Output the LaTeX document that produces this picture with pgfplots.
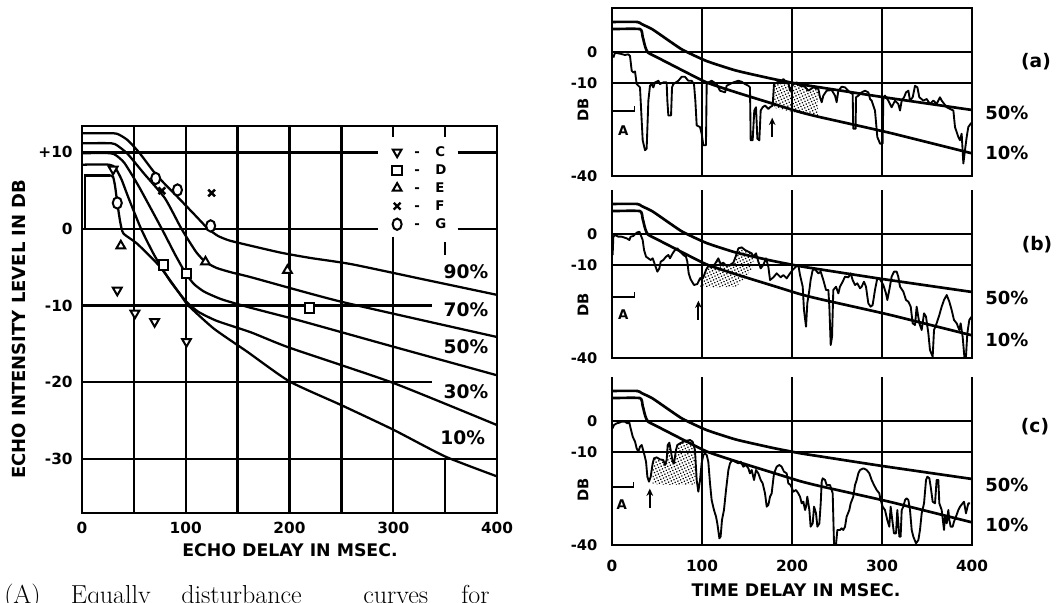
\documentclass[border=0pt]{standalone}
\usepackage{fontspec}
\usepackage{pgfplots}
\pgfplotsset{compat=1.18}
\usetikzlibrary{patterns.meta,arrows.meta}
\newfontfamily\lbl{DejaVu Sans}
\newcommand{\lf}[1]{\lbl\bfseries\fontsize{#1}{#1}\selectfont}

\pgfplotsset{
  panel/.style={
    anchor=south west, scale only axis, width=270pt, height=126pt,
    xmin=0, xmax=400, ymin=-40, ymax=14.2,
    axis line style={draw=none}, major tick length=0pt,
    xtick={0,100,200,300,400}, xticklabels={},
    ytick={-40,-10,0}, yticklabels={-40,-10,0},
    grid=major, major grid style={line width=1.5pt, black},
    yticklabel style={font=\lf{11}, xshift=-7.5pt},
    clip mode=individual,
  },
  env/.style={black, line width=2pt, smooth, tension=0.3},
  trace/.style={black, line width=1.4pt, line join=round},
  stip/.style={draw=none, pattern={Dots[distance=2.2pt, radius=0.65pt, angle=25]}},
  pct/.style={black, line width=1.7pt, smooth, tension=0.35, forget plot},
}

% the two limit curves shared by the three records
\pgfplotstableread{
x y
0 9.7
28 9.7
33 9.0
45 7.3
64 3.5
79 0.6
105 -2.9
138 -6.0
179 -8.7
209 -10.4
231 -11.4
300 -14.5
400 -18.7
}\fiftypct
\pgfplotstableread{
x y
0 7.4
31 7.4
34 5.0
37 1.6
40 -0.2
50 -1.7
64 -3.8
105 -9.8
140 -13.2
179 -16.7
209 -19.4
231 -21.0
309 -26.1
400 -32.7
}\tenpct

\begin{document}
\begin{tikzpicture}
\useasboundingbox (0,0) rectangle (795pt,452.25pt);

%% ---------------- equal disturbance curves ----------------
\begin{axis}[
  at={(61.5pt,67.5pt)}, anchor=south west, scale only axis,
  width=311.25pt, height=290.25pt,
  xmin=0, xmax=400, ymin=-37.08, ymax=13.45,
  axis line style={line width=2.2pt}, major tick length=0pt,
  xtick={0,100,200,300,400}, xticklabels={0,100,200,300,400},
  ytick={-30,-20,-10,0,10}, yticklabels={-30,-20,-10,0,+10},
  xticklabel style={font=\lf{11.5}, yshift=-3pt},
  yticklabel style={font=\lf{11.5}, xshift=-3.5pt},
  clip mode=individual,
  legend style={at={(axis cs:299,11.2)}, anchor=north west, draw=none, fill=none,
    inner sep=0pt, row sep=0.7pt, font=\lf{10}, cells={anchor=west}},
  legend image code/.code={\draw[#1] plot coordinates {(0.1cm,0cm)};},
]
% grid, interrupted where the key and the curve labels sit
\begin{scope}[line width=1.7pt]
\draw (axis cs:0,10) -- (axis cs:285,10);
\draw (axis cs:362,10) -- (axis cs:400,10);
\draw (axis cs:0,0) -- (axis cs:285,0);
\draw (axis cs:362,0) -- (axis cs:400,0);
\draw (axis cs:0,-10) -- (axis cs:337,-10);
\draw (axis cs:0,-20) -- (axis cs:337,-20);
\draw (axis cs:0,-30) -- (axis cs:400,-30);
\pgfplotsinvokeforeach{50,100,150,200,250}{
  \draw (axis cs:#1,-37.08) -- (axis cs:#1,13.45);
}
\draw (axis cs:300,13.45) -- (axis cs:300,12.0);
\draw (axis cs:300,-1.0) -- (axis cs:300,-37.08);
\draw (axis cs:350,13.45) -- (axis cs:350,12.0);
\draw (axis cs:350,-1.7) -- (axis cs:350,-3.4);
\draw (axis cs:350,-30) -- (axis cs:350,-37.08);
\end{scope}

% 90, 70, 50, 30 and 10 per cent curves
\addplot[pct] coordinates {
(0,12.5) (30,12.5) (36,12.3) (44,11.6) (55,10.0) (72,7.0) (92,4.2) (109,1.8)
(121,0.1) (131,-0.9) (142,-1.5) (160,-2.1) (192,-3.1) (221,-3.8) (260,-4.6)
(330,-6.6) (400,-8.6)};
\addplot[pct] coordinates {
(0,11.2) (28,11.2) (34,10.9) (44,9.8) (60,7.2) (80,4.0) (96,0) (110,-3.0)
(119,-4.3) (130,-5.1) (145,-5.7) (163,-6.3) (250,-9.5) (400,-14.1)};
\addplot[pct] coordinates {
(0,9.9) (27,9.9) (33,9.6) (41,8.6) (55,5.5) (77,0) (90,-3.4) (100,-5.8)
(108,-7.2) (118,-8.2) (135,-9.2) (163,-10.3) (211,-12.0) (301,-15.4) (400,-19.1)};
\addplot[pct] coordinates {
(0,8.4) (26,8.4) (32,8.0) (38,6.5) (45,4.0) (57,0) (70,-3.5) (85,-6.8)
(100,-9.4) (112,-10.8) (130,-12.0) (163,-13.5) (200,-15.5) (300,-20.1) (400,-25.6)};
\addplot[black, line width=1.7pt, forget plot] coordinates {(3,0) (3,7.0) (27,7.0)};
\addplot[pct] coordinates {
(27,7.0) (30,6.8) (32,5.5) (34,3.4) (37,0.8) (40,-0.6) (53,-1.9) (75,-4.9)
(96,-8.8) (101,-9.8) (127,-13.0) (159,-16.0) (200,-19.9) (250,-23.0)
(300,-26.2) (350,-29.7) (400,-32.3)};

% observations by listener
\addplot[black, only marks, mark=triangle*, mark size=3.8pt,
  mark options={rotate=180, fill=white, line width=1.5pt}] coordinates {
(30,7.8) (34,-8.0) (51,-11.0) (70,-12.1) (100.7,-14.7)};
\addlegendentry{\hspace{7.5pt}-\hspace{11.5pt}C}
\addplot[black, only marks, mark=square*, mark size=3.5pt,
  mark options={fill=white, line width=1.5pt}] coordinates {
(78.7,-4.7) (100.7,-5.8) (219,-10.3)};
\addlegendentry{\hspace{7.5pt}-\hspace{11.5pt}D}
\addplot[black, only marks, mark=triangle*, mark size=3.8pt,
  mark options={fill=white, line width=1.5pt}] coordinates {
(37.4,-2.2) (119,-4.3) (198,-5.4)};
\addlegendentry{\hspace{7.5pt}-\hspace{11.5pt}E}
\addplot[black, only marks, mark=x, mark size=3.6pt,
  mark options={line width=1.8pt}] coordinates {
(77,5.0) (125,4.7)};
\addlegendentry{\hspace{7.5pt}-\hspace{11.5pt}F}
\addplot[black, only marks, mark=*, mark size=3.4pt,
  mark options={fill=white, line width=1.5pt, yscale=1.25}] coordinates {
(34,3.4) (71,6.6) (92,5.1) (124,0.4)};
\addlegendentry{\hspace{7.5pt}-\hspace{11.5pt}G}

\node[font=\lf{14}] at (axis cs:370,-5.6) {90\%};
\node[font=\lf{14}] at (axis cs:370,-10.6) {70\%};
\node[font=\lf{14}] at (axis cs:370,-15.4) {50\%};
\node[font=\lf{14}] at (axis cs:370,-21.3) {30\%};
\node[font=\lf{14}] at (axis cs:367,-27.3) {10\%};
\end{axis}

%% ---------------- record (a) ----------------
\begin{axis}[panel, at={(459pt,320.25pt)}]
\draw[line width=2.2pt, line join=miter] (rel axis cs:0,0) rectangle (rel axis cs:1,1);
\addplot[stip] coordinates {
(180,-10.35) (183,-9.81) (188.5,-9.28) (190.4,-8.75) (192.2,-9.28) (195.9,-9.81)
(197.8,-12.48) (201.5,-10.35) (205.2,-9.81) (208.9,-10.88) (214.5,-11.2)
(218.2,-12.48) (223.7,-11.41) (229.3,-11.95) (229.3,-20.6) (205,-19.6) (180,-18.0)} -- cycle;
\addplot[env] table {\fiftypct};
\addplot[env] table {\tenpct};
\addplot[trace] table {
x y
1.5 -1.8
3.3 -0.21
8.9 -0.53
14.4 -0.96
18.1 -0.75
20.0 -1.28
21.9 -6.08
23.7 -6.61
25.6 -6.29
27.4 -10.35
31.1 -11.41
34.1 -28.48
36.7 -31.68
38.5 -31.15
40.4 -15.68
42.2 -10.88
44.1 -10.35
45.9 -11.41
47.8 -9.81
51.5 -9.28
53.3 -10.35
57.0 -9.81
60.7 -9.81
61.5 -15.68
62.6 -20.48
65.6 -20.48
66.7 -11.41
68.1 -10.35
73.7 -9.28
77.4 -8.0
81.1 -8.0
84.8 -9.28
88.5 -9.28
91.1 -10.35
92.6 -15.68
94.1 -23.68
97.8 -24.21
99.6 -26.35
101.5 -30.08
104.4 -30.08
105.2 -10.35
107.0 -9.81
110.7 -9.28
116.3 -10.35
120.0 -12.48
125.6 -13.01
127.4 -10.88
134.8 -9.81
140.4 -9.28
144.1 -9.6
147.8 -10.35
151.5 -10.88
153.3 -11.41
154.1 -28.48
156.3 -28.48
158.1 -18.88
160.0 -17.81
161.5 -27.95
163.7 -28.48
165.2 -18.88
167.4 -17.81
170.0 -17.28
173.7 -18.35
175.6 -17.81
178.5 -17.28
180.0 -10.35
183.0 -9.81
188.5 -9.28
190.4 -8.75
192.2 -9.28
195.9 -9.81
197.8 -12.48
201.5 -10.35
205.2 -9.81
208.9 -10.88
214.5 -11.2
218.2 -12.48
223.7 -11.41
229.3 -11.95
231.1 -14.61
233.0 -16.21
234.8 -14.08
238.5 -12.48
244.1 -12.27
247.8 -14.08
249.6 -16.21
251.5 -12.48
255.2 -11.2
258.9 -11.41
264.4 -13.01
267.4 -13.55
268.1 -24.75
270.7 -24.75
271.1 -14.61
273.7 -14.08
277.4 -13.01
281.1 -12.48
284.8 -13.01
286.7 -15.15
288.5 -15.68
292.2 -18.88
294.8 -27.41
297.8 -29.55
300.7 -29.55
301.5 -14.61
303.3 -14.08
307.0 -15.68
310.7 -17.81
314.5 -15.68
318.1 -16.75
320.0 -18.88
321.9 -15.68
324.5 -14.61
326.7 -13.01
329.3 -12.48
331.1 -15.68
334.1 -14.61
336.7 -10.88
339.3 -11.41
341.5 -14.61
346.0 -15.68
349.6 -15.15
353.3 -16.75
357.0 -15.68
360.7 -16.75
364.4 -14.61
366.3 -15.68
371.9 -17.81
375.6 -18.35
379.3 -18.88
381.1 -24.21
384.8 -27.41
386.7 -28.48
388.5 -26.35
390.4 -35.95
392.2 -31.68
394.1 -27.41
395.9 -24.21
398.5 -23.15
400.0 -22.7
};
\draw[line width=1.3pt] (axis cs:0,-19.1) -- (axis cs:25,-19.1) -- (axis cs:25,-17.5);
\node[font=\lf{10}] at (axis cs:12.6,-25.3) {A};
\draw[-{Stealth[length=5.5pt,width=5pt]}, line width=1.5pt] (axis cs:178,-27.5) -- (axis cs:178,-21.2);
\end{axis}

%% ---------------- record (b) ----------------
\begin{axis}[panel, at={(459pt,183.75pt)}]
\draw[line width=2.2pt, line join=miter] (rel axis cs:0,1) -- (rel axis cs:0,0) -- (rel axis cs:1,0) -- (rel axis cs:1,1);
\addplot[stip] coordinates {
(97.8,-14.3) (101.5,-13.98) (104.4,-11.61) (107.0,-10.32) (110.7,-10.75) (114.4,-9.68)
(118.1,-7.85) (120.7,-9.68) (123.7,-9.25) (127.4,-10.32) (131.1,-9.99) (134.8,-9.25)
(137.4,-7.31) (140.4,-4.62) (144.1,-4.3) (147.8,-5.16) (151.5,-5.7) (155.2,-6.24)
(157.0,-7.31) (157,-10.5) (149,-13.8) (138,-17.0) (115,-17.2) (97.8,-17.0)} -- cycle;
\addplot[env] table {\fiftypct};
\addplot[env] table {\tenpct};
\addplot[trace] table {
x y
0.7 -6.77
1.5 -0.86
3.3 -0.32
7.0 -0.86
10.7 -0.86
16.3 -1.4
19.3 -1.94
20.7 -0.86
23.7 -0.645
27.4 0.43
30.4 0.75
31.9 -0.32
34.1 -1.94
35.6 -5.16
37.8 -7.31
40.4 -7.85
43.0 -8.39
45.2 -7.85
47.8 -9.99
50.4 -12.15
52.6 -11.08
54.1 -8.92
57.0 -8.39
60.0 -7.31
62.6 -6.77
64.4 -7.85
67.4 -6.24
70.0 -5.16
72.6 -4.62
75.6 -5.7
79.3 -6.77
82.2 -7.31
83.7 -8.92
85.2 -12.69
87.4 -14.62
91.1 -16.45
94.8 -16.13
97.8 -14.3
101.5 -13.98
104.4 -11.61
107.0 -10.32
110.7 -10.75
114.4 -9.68
118.1 -7.85
120.7 -9.68
123.7 -9.25
127.4 -10.32
131.1 -9.99
134.8 -9.25
137.4 -7.31
140.4 -4.62
144.1 -4.3
147.8 -5.16
151.5 -5.7
155.2 -6.24
157.0 -7.31
160.0 -6.24
162.6 -8.92
165.2 -11.08
168.1 -9.99
171.1 -7.85
173.7 -10.54
175.6 -14.84
179.3 -13.98
183.0 -12.69
187.4 -13.98
190.4 -13.23
194.1 -14.3
197.8 -12.69
200.7 -11.61
204.4 -10.54
207.0 -9.99
208.9 -13.23
211.9 -16.99
213.3 -24.52
215.6 -29.89
217.0 -22.37
219.3 -18.06
220.7 -14.84
223.0 -11.61
225.6 -11.4
229.3 -12.69
231.9 -12.15
234.8 -14.84
237.8 -18.06
240.4 -18.06
241.5 -23.44
243.0 -35.81
244.5 -33.12
245.9 -18.06
248.9 -16.99
251.5 -19.14
253.3 -16.99
256.3 -15.38
258.9 -13.76
262.6 -13.98
265.2 -12.69
267.4 -14.84
270.0 -16.45
272.6 -15.91
275.6 -17.53
277.4 -16.99
280.0 -15.38
282.2 -16.99
284.8 -22.37
287.4 -23.44
289.6 -22.9
292.2 -18.06
294.8 -14.3
297.8 -14.62
301.5 -16.45
304.4 -19.14
305.9 -21.29
308.1 -18.06
310.7 -13.76
313.3 -12.15
316.3 -12.15
318.1 -13.76
320.0 -16.99
323.7 -18.6
326.7 -21.29
329.3 -21.83
331.9 -23.44
334.1 -28.82
336.7 -29.35
338.5 -23.44
341.5 -28.82
344.1 -30.97
346.7 -25.59
348.9 -26.67
351.5 -32.04
353.3 -37.42
356.3 -39.57
357.8 -30.97
360.7 -28.82
363.7 -26.13
366.3 -23.44
368.9 -21.29
371.9 -19.68
374.8 -21.83
377.4 -24.52
380.0 -27.74
383.0 -28.82
385.9 -30.97
387.4 -28.82
389.6 -33.12
391.5 -39.57
393.3 -39.57
394.8 -32.04
397.0 -27.74
399.6 -26.67
};
\draw[line width=1.3pt] (axis cs:0,-20.4) -- (axis cs:25,-20.4) -- (axis cs:25,-18.8);
\node[font=\lf{10}] at (axis cs:12.6,-26.1) {A};
\draw[-{Stealth[length=5.5pt,width=5pt]}, line width=1.5pt] (axis cs:96,-27.7) -- (axis cs:96,-21.5);
\end{axis}

%% ---------------- record (c) ----------------
\begin{axis}[panel, at={(459pt,43.5pt)},
  xticklabels={0,100,200,300,400}, xticklabel style={font=\lf{11.5}, yshift=-8pt}]
\draw[line width=2.2pt, line join=miter] (rel axis cs:0,1) -- (rel axis cs:0,0) -- (rel axis cs:1,0) -- (rel axis cs:1,1);
\addplot[stip] coordinates {
(45.2,-13.66) (46.7,-12.04) (49.6,-11.72) (53.3,-12.37) (57.0,-12.58) (58.9,-14.19)
(60.7,-12.58) (61.9,-7.74) (63.7,-6.99) (65.2,-9.35) (67.4,-13.12) (68.9,-13.66)
(71.1,-9.35) (72.6,-7.74) (75.6,-7.2) (79.3,-6.67) (83.0,-6.34) (86.7,-6.13)
(89.6,-6.67) (92.2,-9.35) (93.5,-17) (92,-20.5) (60,-20.6) (45.2,-20.3)} -- cycle;
\addplot[env] table {\fiftypct};
\addplot[env] table {\tenpct};
\addplot[trace] table {
x y
0.7 -2.37
2.2 -1.29
5.2 -0.75
8.1 -0.54
10.7 -0.21
14.4 -0.21
17.0 -0.75
19.3 -0.54
20.7 -2.37
23.0 -5.05
25.6 -6.67
27.4 -8.82
29.3 -9.89
31.1 -8.28
33.0 -7.74
35.6 -10.43
37.8 -13.12
39.3 -17.96
41.1 -19.57
43.0 -17.96
45.2 -13.66
46.7 -12.04
49.6 -11.72
53.3 -12.37
57.0 -12.58
58.9 -14.19
60.7 -12.58
61.9 -7.74
63.7 -6.99
65.2 -9.35
67.4 -13.12
68.9 -13.66
71.1 -9.35
72.6 -7.74
75.6 -7.2
79.3 -6.67
83.0 -6.34
86.7 -6.13
89.6 -6.67
92.2 -9.35
94.1 -19.03
95.9 -22.8
97.8 -19.03
99.6 -13.66
101.5 -10.97
103.3 -10.43
105.2 -10.97
107.0 -13.12
108.9 -20.11
110.7 -25.48
113.3 -28.71
115.6 -30.86
117.0 -33.01
119.3 -37.85
120.7 -37.31
122.2 -31.94
124.4 -28.71
126.7 -22.26
129.3 -15.81
131.1 -13.66
133.7 -12.58
136.7 -13.12
140.4 -13.66
143.0 -13.12
145.9 -14.73
148.9 -14.19
151.5 -15.27
153.3 -16.88
155.2 -15.81
157.8 -19.03
160.0 -15.81
162.6 -16.88
165.2 -19.03
167.4 -20.11
170.0 -23.33
171.9 -27.63
173.7 -27.1
175.6 -24.41
177.4 -23.33
180.0 -16.88
183.0 -14.73
185.9 -14.19
188.5 -14.73
191.1 -16.34
194.1 -16.88
195.9 -20.11
198.5 -20.65
201.5 -22.8
204.4 -22.26
207.0 -23.33
208.9 -24.41
210.8 -26.56
212.6 -26.02
214.5 -28.71
215.6 -27.63
217.0 -24.41
219.3 -28.71
220.7 -34.09
223.0 -33.01
224.5 -27.63
226.7 -29.78
228.2 -34.09
230.4 -33.01
231.9 -26.56
233.0 -19.57
234.1 -18.49
236.7 -19.03
238.5 -20.65
242.2 -20.65
244.1 -22.26
245.2 -23.33
246.7 -39.8
248.9 -39.8
250.4 -35.16
253.3 -35.16
255.2 -34.62
257.0 -35.16
258.9 -34.09
260.7 -30.86
263.7 -28.71
265.2 -26.56
268.1 -24.41
270.0 -20.65
271.9 -19.03
273.7 -16.88
275.6 -15.81
279.3 -15.27
283.0 -15.81
285.9 -16.88
288.5 -19.03
291.1 -20.65
294.1 -22.26
297.0 -23.33
298.5 -25.48
300.7 -27.63
303.3 -28.71
305.9 -31.94
308.1 -34.09
309.6 -27.63
311.9 -33.01
313.3 -36.24
315.6 -36.24
317.0 -28.71
319.3 -37.31
320.7 -37.31
321.9 -28.71
323.7 -27.63
325.6 -25.48
327.4 -24.95
329.3 -25.48
331.1 -28.71
333.0 -35.16
334.8 -37.31
337.8 -39.46
340.4 -38.39
342.2 -35.16
344.1 -29.78
346.7 -26.56
348.9 -19.03
350.4 -17.96
352.6 -18.49
354.1 -21.18
356.3 -26.02
358.9 -26.56
360.7 -19.03
362.6 -19.03
363.7 -26.56
366.3 -28.71
368.9 -35.16
370.0 -30.86
371.9 -33.01
373.7 -28.71
374.8 -31.94
376.3 -34.09
378.5 -34.09
380.0 -32.47
382.2 -30.86
384.8 -28.71
386.7 -27.63
389.6 -26.56
391.1 -26.02
393.3 -29.78
395.9 -26.56
397.8 -26.56
};
\draw[line width=1.3pt] (axis cs:0,-21.2) -- (axis cs:24,-21.2) -- (axis cs:24,-19.6);
\node[font=\lf{10}] at (axis cs:10.8,-27.1) {A};
\draw[-{Stealth[length=5.5pt,width=5pt]}, line width=1.5pt] (axis cs:42,-28) -- (axis cs:42,-21.8);
\end{axis}

%% ---------------- labels ----------------
\node[rotate=90, font=\lf{13.5}] at (14.25pt,205.5pt) {ECHO INTENSITY LEVEL IN DB};
\node[font=\lf{13}] at (217.5pt,39.75pt) {ECHO DELAY IN MSEC.};
\node[font=\lf{13}] at (597pt,9.75pt) {TIME DELAY IN MSEC.};
\foreach \yy in {369.75,223.5,84.75}
  \node[rotate=90, font=\lf{11}] at (437.25pt,\yy pt) {DB};
\node[font=\lf{14}] at (777pt,405.75pt) {(a)};
\node[font=\lf{14}] at (777.75pt,268.5pt) {(b)};
\node[font=\lf{14}] at (776.25pt,132pt) {(c)};
\node[font=\lf{13.5}, anchor=west, inner sep=0pt] at (738.75pt,367.5pt) {50\%};
\node[font=\lf{13.5}, anchor=west, inner sep=0pt] at (738.75pt,337.5pt) {10\%};
\node[font=\lf{13.5}, anchor=west, inner sep=0pt] at (738.75pt,228.75pt) {50\%};
\node[font=\lf{13.5}, anchor=west, inner sep=0pt] at (738.75pt,197.25pt) {10\%};
\node[font=\lf{13.5}, anchor=west, inner sep=0pt] at (738.75pt,88.5pt) {50\%};
\node[font=\lf{13.5}, anchor=west, inner sep=0pt] at (738.75pt,58.5pt) {10\%};

% caption line, running past the lower edge
\begin{scope}[every node/.style={anchor=base west, inner sep=0pt, font=\fontsize{19.5}{24}\selectfont}]
\node at (3pt,-0.6pt) {(A)};
\node at (53pt,-0.6pt) {Equally};
\node at (135.75pt,-0.6pt) {disturbance};
\node at (272.25pt,-0.6pt) {curves};
\node at (345.75pt,-0.6pt) {for};
\end{scope}
\end{tikzpicture}
\end{document}
